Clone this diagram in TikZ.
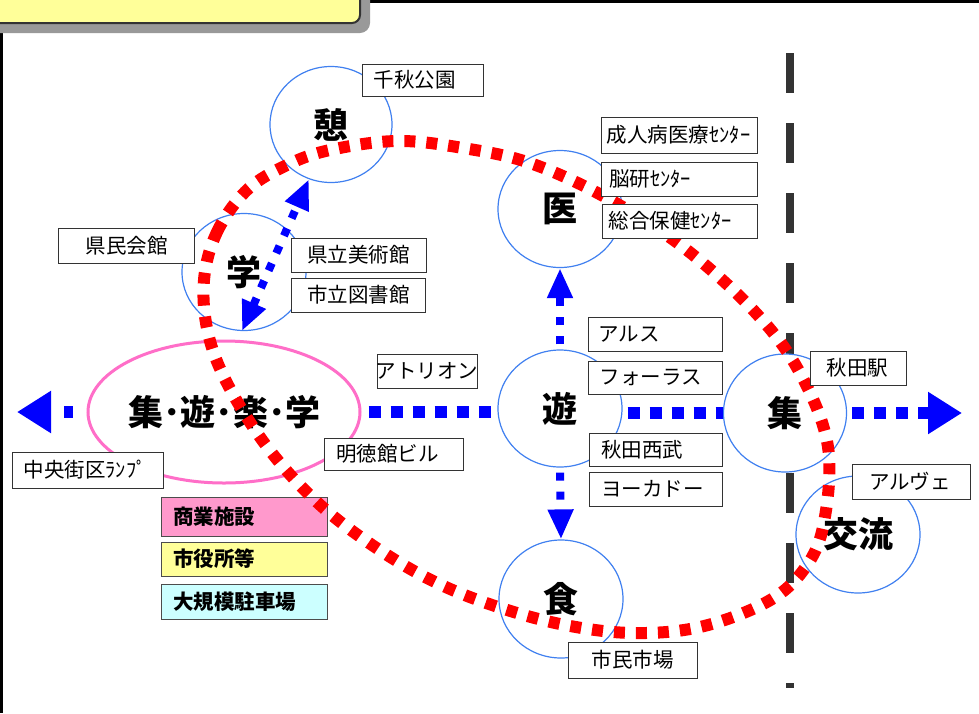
\documentclass[tikz,border=0pt]{standalone}
\usepackage{fontspec}
\newfontfamily\jp{Noto Sans CJK JP}
\usetikzlibrary{shapes.geometric,arrows.meta}
\definecolor{circblue}{RGB}{64,128,240}
\definecolor{pinkline}{RGB}{255,110,200}
\definecolor{legpink}{RGB}{255,153,204}
\definecolor{legyellow}{RGB}{255,255,153}
\definecolor{legcyan}{RGB}{204,255,255}
\definecolor{tabyellow}{RGB}{255,255,153}
\definecolor{dashgray}{RGB}{51,51,51}
\definecolor{shadowgray}{RGB}{153,153,153}
\begin{document}
\begin{tikzpicture}[x=1pt,y=-1pt,
  zone/.style={ellipse, draw=circblue, line width=1.2pt, fill=white,
    minimum width=124pt, minimum height=117pt, inner sep=0pt,
    font=\jp\bfseries\fontsize{35}{40}\selectfont},
  bigtext/.style={inner sep=0pt, font=\jp\bfseries\fontsize{35}{40}\selectfont},
  lbox/.style={draw=black!80, line width=1pt, fill=white, inner sep=0pt},
  legbox/.style={draw=black!70, line width=1pt, inner sep=0pt},
  ltext/.style={font=\jp\fontsize{20.5}{24}\selectfont, inner sep=0pt},
  legtext/.style={font=\jp\bfseries\fontsize{20.5}{24}\selectfont, inner sep=0pt, anchor=west},
  bluedots/.style={draw=blue, line width=12pt, dash pattern=on 12pt off 10pt},
  bluethin/.style={draw=blue, line width=8pt, dash pattern=on 8pt off 11pt},
  bighead/.style={-{Triangle[length=34pt,width=40pt]}},
  midhead/.style={-{Triangle[length=30pt,width=24pt]}},
  redloop/.style={draw=red, line width=12pt, dash pattern=on 11pt off 11pt}
]
\useasboundingbox (0,0) rectangle (979,713);
\clip (0,0) rectangle (979,713);
\fill[white] (0,0) rectangle (979,713);

% frame
\draw[line width=3pt] (350,1.5) -- (979,1.5);
\draw[line width=3pt] (1.5,20) -- (1.5,713);
\fill[shadowgray, rounded corners=10pt] (-20,-20) rectangle (370,33);
\filldraw[fill=tabyellow, draw=black!80, line width=2pt, rounded corners=8pt] (-20,-20) rectangle (360,23);

% dashed boundary
\coordinate (dtop) at (790,53);
\coordinate (dbot) at (790,688);
\draw[dashgray, line width=8pt, dash pattern=on 40pt off 30pt] (dtop) -- (dbot);

% zones
\node[zone, minimum width=122pt, minimum height=116pt] (kei) at (331,124.5) {憩};
\node[zone] (gaku) at (244,272) {学};
\node[zone] (iryo) at (560,209) {医};
\node[zone] (yu) at (560,408.5) {遊};
\node[zone, minimum width=123pt, minimum height=118pt] (shu) at (785,413) {集};
\node[zone] (koryu) at (858,534.5) {交流};
\node[zone, minimum height=118pt] (shoku) at (561,599) {食};

\node[ellipse, draw=pinkline, line width=3pt, fill=white, minimum width=272pt, minimum height=142pt, inner sep=0pt] (center) at (224,412) {};
\node[bigtext] (centertext) at (224.5,412) {集･遊･楽･学};

% blue arrows
\coordinate (leftend) at (17,412);
\coordinate (rightend) at (962,413);
\draw[bluedots, bighead, dash pattern=on 9pt off 20pt, dash phase=15pt] (center.west) -- (leftend);
\draw[bluedots, dash phase=15pt] (center.east) -- (center.east -| yu.west);
\draw[bluedots, dash phase=17pt] (shu.west -| yu.east) -- (shu.west);
\draw[bluedots, bighead, dash phase=17pt] (shu.east) -- (rightend);
\draw[bluethin, midhead, dash phase=14pt] (yu.north) -- (iryo.south);
\draw[bluethin, midhead, dash phase=14pt] (yu.south) -- (shoku.north);
\draw[bluethin, {Triangle[length=30pt,width=24pt]}-{Triangle[length=30pt,width=24pt]}] (gaku.-92) -- (kei.-112);

% legend
\node[legbox, fill=legpink, minimum width=166pt, minimum height=39pt] (lg1) at (244,516.5) {};
\node[legbox, fill=legyellow, minimum width=166pt, minimum height=34pt] (lg2) at (244,559) {};
\node[legbox, fill=legcyan, minimum width=166pt, minimum height=35pt] (lg3) at (244,601.5) {};
\node[legtext] (lt1) at (173,516.5) {商業施設};
\node[legtext] (lt2) at (173,559) {市役所等};
\node[legtext] (lt3) at (173,601.5) {大規模駐車場};

% red loop
\draw[redloop] plot[smooth cycle, tension=0.6] coordinates {
 (204,280) (217,232) (247,190) (287,165) (330,150) (397,141) (463,148)
 (530,163) (605,197) (683,247) (755,312) (800,373) (828,447) (823,527)
 (802,572) (765,603) (700,627) (633,633) (565,625) (498,607) (435,582)
 (375,547) (318,503) (268,448) (228,385) (208,333)};

% label boxes
\node[lbox, minimum width=121pt, minimum height=32pt] (b1) at (422.5,80) {};
\node[ltext] (t1) at (414.5,80) {千秋公園};
\node[lbox, minimum width=136pt, minimum height=35pt] (b2) at (126,245.5) {};
\node[ltext] (t2) at (126.5,245.5) {県民会館};
\node[lbox, minimum width=135pt, minimum height=34pt] (b3) at (358.5,255) {};
\node[ltext] (t3) at (358.5,255) {県立美術館};
\node[lbox, minimum width=134pt, minimum height=34pt] (b4) at (358,295) {};
\node[ltext] (t4) at (358.5,295) {市立図書館};
\node[lbox, minimum width=156pt, minimum height=36pt] (b5) at (679,135) {};
\node[ltext] (t5) at (678.5,135) {成人病医療ｾﾝﾀｰ};
\node[lbox, minimum width=156pt, minimum height=34pt] (b6) at (679,179) {};
\node[ltext] (t6) at (650,179) {脳研ｾﾝﾀｰ};
\node[lbox, minimum width=155pt, minimum height=34pt] (b7) at (679.5,221) {};
\node[ltext] (t7) at (670,221) {総合保健ｾﾝﾀｰ};
\node[lbox, minimum width=134pt, minimum height=34pt] (b8) at (655,334) {};
\node[ltext] (t8) at (629,334) {アルス};
\node[lbox, minimum width=134pt, minimum height=33pt] (b9) at (655,377.5) {};
\node[ltext] (t9) at (651,377.5) {フォーラス};
\node[lbox, minimum width=133pt, minimum height=33pt] (b10) at (655.5,449.5) {};
\node[ltext] (t10) at (642,449.5) {秋田西武};
\node[lbox, minimum width=133pt, minimum height=34pt] (b11) at (655.5,489) {};
\node[ltext] (t11) at (652.5,489) {ヨーカドー};
\node[lbox, minimum width=96pt, minimum height=34pt] (b12) at (858,368) {};
\node[ltext] (t12) at (857.5,368) {秋田駅};
\node[lbox, minimum width=118pt, minimum height=35pt] (b13) at (911,481.5) {};
\node[ltext] (t13) at (910,481.5) {アルヴェ};
\node[lbox, minimum width=129pt, minimum height=36pt] (b14) at (632.5,660) {};
\node[ltext] (t14) at (632.5,660) {市民市場};
\node[lbox, minimum width=100pt, minimum height=34pt] (b15) at (427,371) {};
\node[ltext] (t15) at (427,371) {アトリオン};
\node[lbox, minimum width=139pt, minimum height=32pt] (b16) at (393.5,454) {};
\node[ltext] (t16) at (387.5,454) {明徳館ビル};
\node[lbox, minimum width=151pt, minimum height=36pt] (b17) at (87.5,470) {};
\node[ltext] (t17) at (85,470) {中央街区ﾗﾝﾌﾟ};
\end{tikzpicture}
\end{document}
